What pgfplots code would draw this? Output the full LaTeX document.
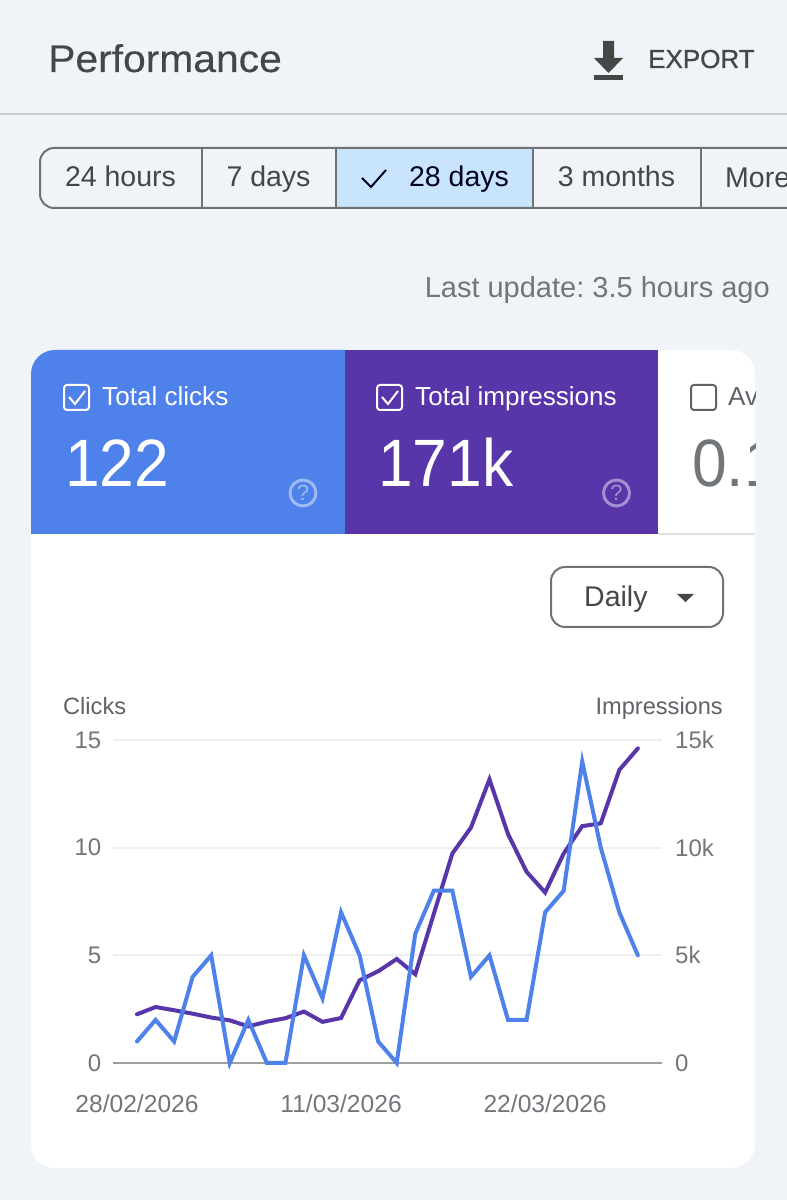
\documentclass[border=0pt]{standalone}
\usepackage{pgfplots}
\pgfplotsset{compat=1.18}
\usepackage{fontspec}
\setmainfont{Liberation Sans}
\newfontfamily\narrowbig[FakeStretch=0.93]{Liberation Sans}
\newfontfamily\wide[FakeStretch=1.06,FakeBold=0.25]{Liberation Sans}
\newfontfamily\medium[FakeBold=0.8]{Liberation Sans}
\frenchspacing
\definecolor{pagebg}{HTML}{F0F4F9}
\definecolor{clickblue}{HTML}{4F81EB}
\definecolor{tileblue}{HTML}{4F81EB}
\definecolor{imppurple}{HTML}{5835A8}
\definecolor{selected}{HTML}{C9E5FB}
\definecolor{dark}{HTML}{444746}
\definecolor{btnline}{HTML}{6E7276}
\definecolor{muted}{HTML}{72767A}
\definecolor{labelgrey}{HTML}{5F6368}
\definecolor{gridc}{HTML}{ECEEF0}
\definecolor{zeroc}{HTML}{9E9E9E}
\newcommand{\fs}[1]{\fontsize{#1}{#1}\selectfont}
\newcommand{\T}[5]{\node[anchor=#1,inner sep=0pt,text=#2,font=\fs{#3}] at (#4) {#5};}
\pgfplotstableread{
idx clicks impressions
0 1 2260
1 2 2600
2 1 2450
3 4 2290
4 5 2110
5 0 1980
6 2 1700
7 0 1920
8 0 2080
9 5 2390
10 3 1910
11 7 2090
12 5 3840
13 1 4260
14 0 4830
15 6 4120
16 8 6930
17 8 9730
18 4 10930
19 5 13170
20 2 10630
21 2 8880
22 7 7920
23 8 9730
24 14 11000
25 10 11130
26 7 13610
27 5 14610
}\gsc
\begin{document}
\begin{tikzpicture}[x=1pt,y=1pt]
\useasboundingbox (0,0) rectangle (787,1200);
\begin{scope}
\clip (0,0) rectangle (787,1200);
\fill[pagebg] (0,0) rectangle (787,1200);
% header
\T{base west}{dark}{38.5}{48,1128}{\wide Performance}
\fill[dark] (603,1159) rectangle (614,1142) -- (623,1142) -- (608.5,1127) -- (594,1142) -- (603,1142) -- cycle;
\fill[dark] (594,1125) rectangle (623,1120);
\T{base west}{dark}{26}{648,1132}{\medium EXPORT}
\draw[line width=2pt,color=black!20] (0,1086) -- (787,1086);
% range buttons
\fill[selected] (335.5,992) rectangle (532.5,1052);
\draw[btnline,line width=2pt,rounded corners=14pt] (800,1052) -- (40,1052) -- (40,992) -- (800,992);
\foreach \xx in {201.5,335.5,532.5,701} \draw[btnline,line width=2pt] (\xx,992) -- (\xx,1052);
\T{base}{dark}{28.5}{120.5,1013}{24 hours}
\T{base}{dark}{28.5}{268.5,1013}{7 days}
\draw[color=black!85!blue,line width=2pt] (362,1022) -- (371,1013) -- (386,1030);
\T{base}{black!85!blue}{28.5}{459,1013}{28 days}
\T{base}{dark}{28.5}{616.5,1013}{3 months}
\T{base west}{dark}{28.5}{725,1012}{More}
\T{base east}{muted}{29}{770,902}{Last update: 3.5 hours ago}
% card
\fill[white,rounded corners=24pt] (31,32) rectangle (755,850);
\fill[tileblue] (345,666) -- (31,666) [rounded corners=24pt] -- (31,850) [sharp corners] -- (345,850) -- cycle;
\fill[imppurple] (345,666) rectangle (658,850);
\draw[black!12,line width=1.5pt] (658,666) -- (755,666);
% tile 1
\draw[white,line width=2pt,rounded corners=3pt] (64,790) rectangle (89,815);
\draw[white,line width=2pt] (69,803) -- (75,796) -- (85,809);
\T{base west}{white}{26.1}{102,794}{Total clicks}
\T{base west}{white}{67}{65,713}{\narrowbig 122}
\draw[white,opacity=.45,line width=3pt] (303,707) circle (13);
\T{center}{white,opacity=.45}{22}{303,707}{?}
% tile 2
\draw[white,line width=2pt,rounded corners=3pt] (377,790) rectangle (402,815);
\draw[white,line width=2pt] (382,803) -- (388,796) -- (398,809);
\T{base west}{white}{26.1}{415,794}{Total impressions}
\T{base west}{white}{67}{378,713}{\narrowbig 171k}
\draw[white,opacity=.45,line width=3pt] (616.5,707) circle (13);
\T{center}{white,opacity=.45}{22}{616.5,707}{?}
% tile 3 (clipped)
\begin{scope}
\clip (658,666) rectangle (755,850);
\draw[labelgrey,line width=2pt,rounded corners=3pt] (691,790) rectangle (716,815);
\T{base west}{labelgrey}{26.1}{728,794}{Average CTR}
\T{base west}{muted}{67}{692,713}{\narrowbig 0.1\%}
\end{scope}
% Daily
\draw[btnline,line width=2pt,rounded corners=14pt,fill=white] (551,573) rectangle (723,633);
\T{base west}{dark}{28.5}{584,593}{Daily}
\fill[dark] (677,606) -- (694,606) -- (685.5,598) -- cycle;
% axis titles
\T{base west}{labelgrey}{23.6}{63,485.5}{Clicks}
\T{base east}{labelgrey}{23.6}{723,485.5}{Impressions}
\end{scope}
\pgfplotsset{chartaxis/.style={
  at={(113pt,137pt)},anchor=south west,scale only axis,width=549pt,height=323pt,
  xmin=-1.294,xmax=28.3,clip=false,scaled ticks=false,
  axis line style={draw=none},major tick length=0pt,
  tick label style={font=\fs{24},text=muted,inner sep=0pt},
}}
\begin{axis}[chartaxis,axis x line=none,axis y line*=right,
  ymin=0,ymax=15000,ytick={0,5000,10000,15000},yticklabels={0,5k,10k,15k},
  yticklabel style={anchor=west,xshift=13pt},
  ymajorgrids,grid style={gridc,line width=2pt}]
\draw[zeroc,line width=2.5pt] (rel axis cs:0,0) -- (rel axis cs:1,0);
\addplot[imppurple,line width=4pt,line join=miter,line cap=round] table[x=idx,y=impressions]{\gsc};
\end{axis}
\begin{axis}[chartaxis,axis y line*=left,axis x line*=bottom,
  ymin=0,ymax=15,ytick={0,5,10,15},yticklabels={0,5,10,15},
  yticklabel style={anchor=east,xshift=-11.5pt},
  xtick={0,11,22},xticklabels={28/02/2026,11/03/2026,22/03/2026},
  xticklabel style={anchor=base,yshift=-49pt,font=\fs{24.6}}]
\addplot[clickblue,line width=4pt,line join=miter,line cap=round] table[x=idx,y=clicks]{\gsc};
\end{axis}
\end{tikzpicture}
\end{document}
